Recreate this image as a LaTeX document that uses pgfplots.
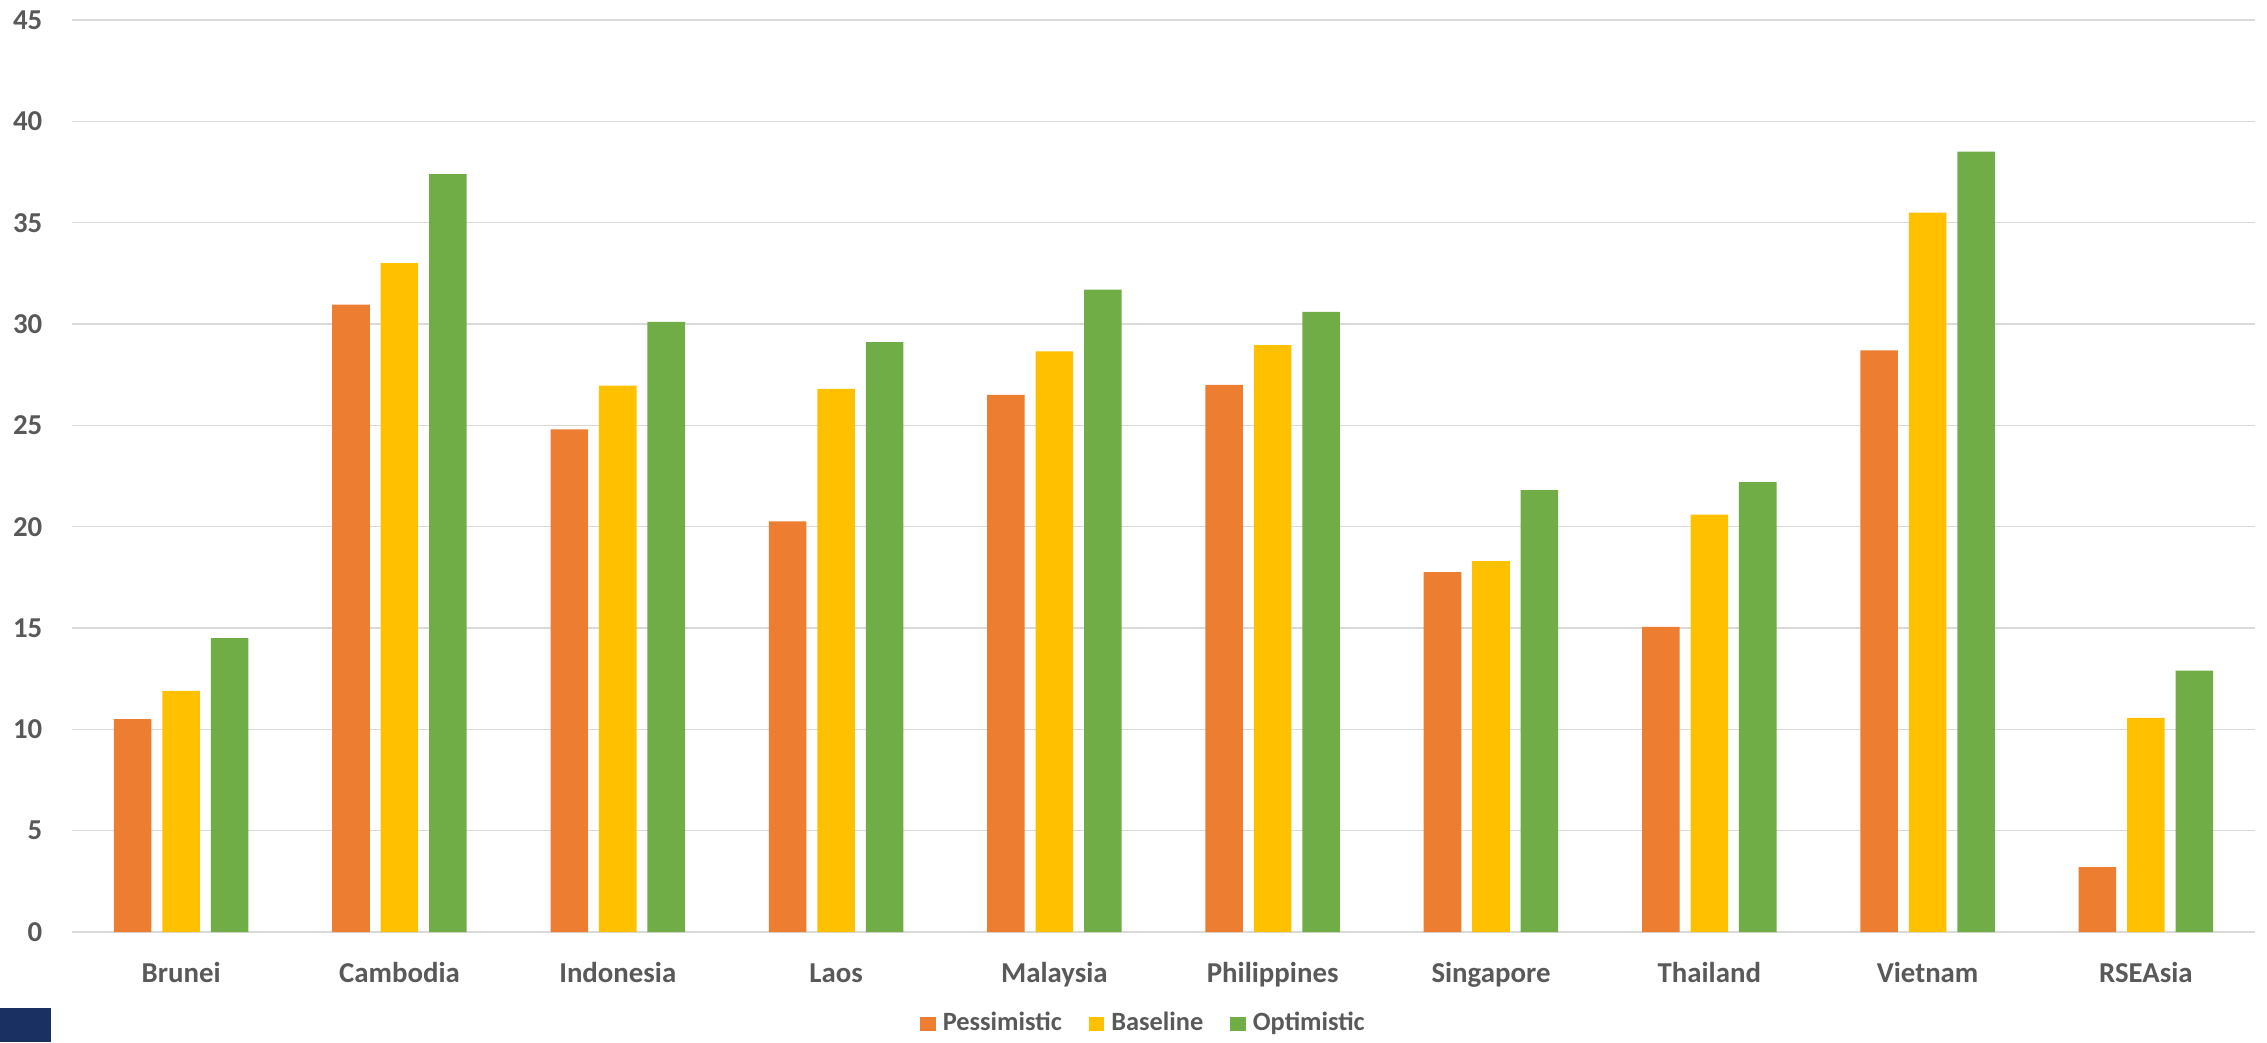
\documentclass[border=0pt]{standalone}
\usepackage{fontspec}
\setmainfont{Carlito}
\usepackage{pgfplots}
\pgfplotsset{compat=1.18}

\definecolor{pess}{HTML}{ED7D31}
\definecolor{base}{HTML}{FFC000}
\definecolor{opti}{HTML}{70AD47}
\definecolor{txt}{HTML}{595959}
\definecolor{gridc}{HTML}{D9D9D9}
\definecolor{navy}{HTML}{1B3062}

\pgfplotsset{
  sqlegend/.style={legend image code/.code={%
    \fill[##1] (0cm,-0.07cm) rectangle (0.155cm,0.07cm);}},
}

\begin{document}
\begin{tikzpicture}
\useasboundingbox (0,0) rectangle (22.67,10.42);
\begin{axis}[
  at={(0.72cm,1.10cm)}, anchor=south west,
  scale only axis,
  width=21.83cm, height=9.12cm,
  ymin=0, ymax=45,
  xmin=-0.5, xmax=9.5,
  ytick={0,5,...,45},
  xtick={0,...,9},
  xticklabels={Brunei,Cambodia,Indonesia,Laos,Malaysia,Philippines,Singapore,Thailand,Vietnam,RSEAsia},
  ymajorgrids,
  grid style={gridc, line width=0.45pt},
  axis line style={draw=none},
  major tick length=0pt,
  tick style={draw=none},
  /pgf/number format/assume math mode=true,
  tick label style={font=\fontsize{8.2}{10}\selectfont\bfseries, text=txt},
  yticklabel style={anchor=east, inner sep=0pt, xshift=-0.29cm},
  xticklabel style={anchor=base, inner sep=0pt, yshift=-0.50cm},
  legend columns=3,
  legend style={at={(0.492,-0.101)}, anchor=center, draw=none, fill=none,
    font=\fontsize{7.5}{9}\selectfont\bfseries, text=txt,
    /tikz/every even column/.append style={column sep=0.2cm},
    inner sep=0pt},
  legend cell align=left,
]
\draw[gridc, line width=0.45pt] (axis cs:-0.5,0) -- (axis cs:9.5,0);
\addplot[ybar, bar width=0.172, bar shift=-0.222, fill=pess, draw=none, sqlegend]
  coordinates {(0,10.5) (1,30.96) (2,24.8) (3,20.26) (4,26.5) (5,27.0) (6,17.76) (7,15.05) (8,28.7) (9,3.2)};
\addplot[ybar, bar width=0.172, bar shift=0, fill=base, draw=none, sqlegend]
  coordinates {(0,11.9) (1,33.0) (2,26.96) (3,26.8) (4,28.65) (5,28.96) (6,18.3) (7,20.6) (8,35.5) (9,10.56)};
\addplot[ybar, bar width=0.172, bar shift=0.222, fill=opti, draw=none, sqlegend]
  coordinates {(0,14.5) (1,37.4) (2,30.1) (3,29.1) (4,31.7) (5,30.6) (6,21.8) (7,22.2) (8,38.5) (9,12.9)};
\legend{Pessimistic,Baseline,Optimistic}
\end{axis}
\fill[navy] (0,0) rectangle (0.51,0.34);
\end{tikzpicture}
\end{document}
